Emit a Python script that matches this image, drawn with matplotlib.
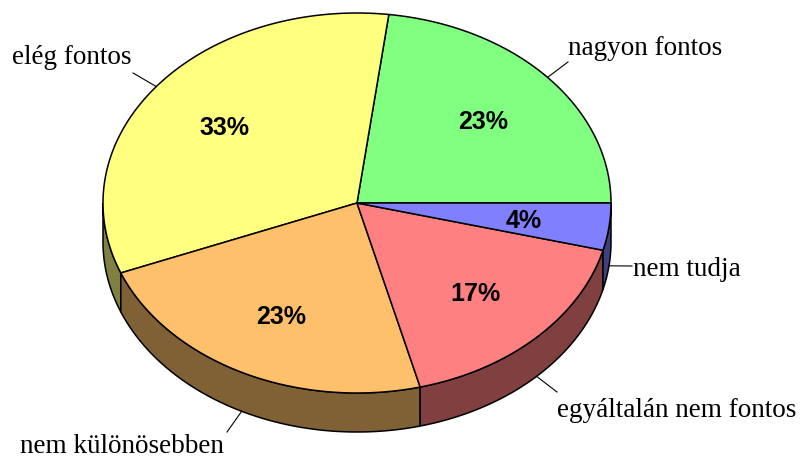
import numpy as np
import matplotlib
matplotlib.use("Agg")
import matplotlib.pyplot as plt

# ---- data ----
categories = ["nagyon fontos", "elég fontos", "nem különösebben",
              "egyáltalán nem fontos", "nem tudja"]
values = [23, 33, 23, 17, 4]
pct_labels = ["23%", "33%", "23%", "17%", "4%"]

# ---- styles ----
top_colors = ["#80FF80", "#FFFF80", "#FFC06B", "#FF8080", "#8080FF"]
side_colors = ["#408040", "#808040", "#806035", "#804040", "#404080"]

# outer label anchors (pixel coords) and alignment
label_pos = [(568, 55, "left"), (132, 64, "right"), (20, 453, "left"),
             (557, 417, "left"), (633, 276, "left")]
leader_end = [(568, 62), (133, 73), (227, 432), (557, 392), (632, 266)]

cx, cy, rx, ry, depth = 357.0, 203.0, 254.0, 190.0, 39.0
label_frac = 0.66

fig = plt.figure(figsize=(8.01, 4.59), dpi=100)
ax = fig.add_axes([0, 0, 1, 1])
ax.set_xlim(0, 801)
ax.set_ylim(459, 0)
ax.axis("off")

def pt(theta_deg, r=1.0, dz=0.0):
    t = np.radians(theta_deg)
    return cx + r * rx * np.cos(t), cy - r * ry * np.sin(t) + dz

total = float(sum(values))
bounds = np.concatenate([[0], np.cumsum(values)]) / total * 360.0

# side walls (front half only: 180..360 deg)
for i in range(len(values)):
    a0, a1 = max(bounds[i], 180.0), min(bounds[i + 1], 360.0)
    if a1 <= a0:
        continue
    th = np.linspace(a0, a1, 120)
    xt, yt = pt(th)
    xb, yb = pt(th[::-1], dz=depth)
    xs = np.concatenate([xt, xb])
    ys = np.concatenate([yt, yb])
    ax.fill(xs, ys, facecolor=side_colors[i], edgecolor="black",
            linewidth=1.1, joinstyle="round", zorder=1)

# top faces
for i in range(len(values)):
    th = np.linspace(bounds[i], bounds[i + 1], 200)
    xa, ya = pt(th)
    xs = np.concatenate([[cx], xa])
    ys = np.concatenate([[cy], ya])
    ax.fill(xs, ys, facecolor=top_colors[i], edgecolor="black",
            linewidth=1.1, joinstyle="round", zorder=2)

# percentage labels
for i in range(len(values)):
    mid = (bounds[i] + bounds[i + 1]) / 2
    x, y = pt(mid, r=label_frac)
    ax.text(x, y + 2, pct_labels[i], ha="center", va="center",
            fontsize=18, fontweight="bold", family="Liberation Sans",
            zorder=3)

# outer labels with leader lines
for i in range(len(values)):
    mid = (bounds[i] + bounds[i + 1]) / 2
    front = 180.0 < mid < 360.0
    x0, y0 = pt(mid, dz=depth if front else 0.0)
    x1, y1 = leader_end[i]
    ax.plot([x0, x1], [y0, y1], color="black", linewidth=0.8, zorder=3)
    lx, ly, ha = label_pos[i]
    ax.text(lx, ly, categories[i], ha=ha, va="baseline", fontsize=19.5,
            family="Liberation Serif", zorder=3)

fig.savefig("out.png", dpi=100)
